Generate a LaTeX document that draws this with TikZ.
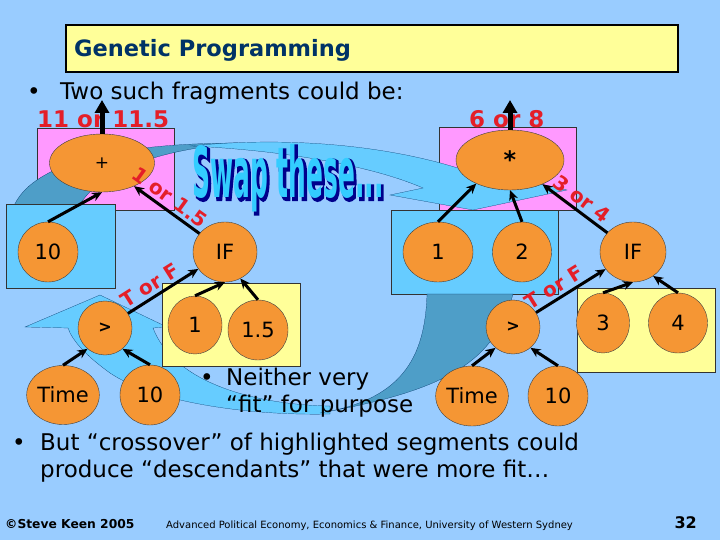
\documentclass[tikz,border=0pt]{standalone}
\usepackage{fontspec}
\setmainfont{DejaVu Sans}
\usetikzlibrary{shapes.geometric}
\usetikzlibrary{arrows.meta}
\definecolor{slidebg}{RGB}{153,204,255}
\definecolor{gppink}{RGB}{255,153,255}
\definecolor{gpcyan}{RGB}{102,204,255}
\definecolor{gpyellow}{RGB}{255,255,153}
\definecolor{gporange}{RGB}{245,150,52}
\definecolor{gpteal}{RGB}{78,158,200}
\definecolor{gpred}{RGB}{228,30,40}
\definecolor{gpnavy}{RGB}{0,51,102}
\definecolor{wordnavy}{RGB}{0,0,140}
\definecolor{wordcyan}{RGB}{51,204,255}
\newcommand{\gpsize}[1]{\fontsize{#1}{#1}\selectfont}
\newcommand{\swaptext}{\scalebox{0.356}[1]{Swap these...}}
\tikzset{
    every node/.style={inner sep=0pt},
    gp/.style 2 args={
        ellipse,
        draw=black!75,
        thin,
        fill=gporange,
        minimum width=#1,
        minimum height=#2,
        font=\gpsize{21}},
    subtree/.style={draw=black!80, thin},
    gpedge/.style={draw, line width=3pt, -{Stealth[length=10pt,width=9pt]}},
    outarrow/.style={draw, line width=5pt, -{Triangle[length=13pt,width=14pt]}},
    redlbl/.style={text=gpred, font=\bfseries\gpsize{20}},
    redres/.style={anchor=base west, text=gpred, font=\bfseries\gpsize{23}},
    bodytext/.style={anchor=base west, font=\gpsize{23}},
    swapshade/.style={text=wordnavy, font=\bfseries\gpsize{70}\addfontfeature{FakeBold=5}},
    swapfill/.style={text=wordcyan, font=\bfseries\gpsize{70}},
    arrowface/.style={fill=gpcyan, draw=gpnavy, very thin},
    arrowback/.style={fill=gpteal, draw=gpnavy, very thin}}
\begin{document}
\begin{tikzpicture}[x=1pt, y=-1pt]
    \fill[slidebg] (0,0) rectangle (720,540);
    \draw[fill=gpyellow, line width=2pt] (66,25) rectangle (678,72);
    \node[anchor=base west, text=gpnavy, font=\bfseries\gpsize{22.5}] (title) at (74,57) {Genetic Programming};
    \node[bodytext] (intro) at (27,100) {\makebox[33pt][l]{•}Two such fragments could be:};

    \draw[subtree, fill=gppink] (37,128) rectangle (174,210);
    \draw[subtree, fill=gppink] (439,127) rectangle (576,210);

    \draw[arrowback] (13,208) .. controls (30,165) and (110,143) .. (240,143)
        .. controls (150,150) and (95,175) .. (78,208) -- cycle;
    \draw[arrowface] (190,146) .. controls (300,135) and (400,148) .. (470,172)
        -- (545,185) -- (567,190) -- (473,210) -- (390,195) -- (423,188)
        .. controls (370,165) and (280,150) .. (190,146) -- cycle;

    \draw[subtree, fill=gpcyan] (6,204) rectangle (115,288);
    \draw[subtree, fill=gpcyan] (391,210) rectangle (558,294);

    \draw[arrowface] (25,327) -- (100,295) -- (167,327) -- (153,328)
        .. controls (175,385) and (260,405) .. (330,406) -- (330,414)
        .. controls (240,416) and (150,400) .. (110,373)
        .. controls (85,355) and (72,340) .. (68,328) -- cycle;
    \draw[arrowback] (427,294) .. controls (425,360) and (400,400) .. (320,413)
        .. controls (450,390) and (495,360) .. (513,294) -- cycle;

    \draw[subtree, fill=gpyellow] (162,283) rectangle (300,366);
    \draw[subtree, fill=gpyellow] (577,288) rectangle (715,372);

    \node[swapshade] (swapshadow) at (290,180) {\swaptext};
    \node[swapfill] (swap) at (288,178) {\swaptext};

    \node[gp={105pt}{58pt}, font=\gpsize{17}] (lplus) at (102,163) {+};
    \node[gp={60pt}{60pt}] (lten) at (48,252) {10};
    \node[gp={64pt}{60pt}] (lif) at (225,252) {IF};
    \node[gp={54pt}{54pt}, font=\bfseries\gpsize{16}] (lgt) at (105,328) {>};
    \node[gp={54pt}{58pt}] (lone) at (195,325) {1};
    \node[gp={60pt}{60pt}] (lonefive) at (258,330) {1.5};
    \node[gp={65pt}{59pt}] (ltime) at (63,395) {Time};
    \node[gp={60pt}{60pt}] (ltenb) at (150,395) {10};

    \node[gp={108pt}{60pt}, font=\bfseries\gpsize{24}] (rstar) at (510,160) {*};
    \node[gp={70pt}{60pt}] (rone) at (438,252) {1};
    \node[gp={59pt}{60pt}] (rtwo) at (522,252) {2};
    \node[gp={66pt}{60pt}] (rif) at (633,252) {IF};
    \node[gp={54pt}{54pt}, font=\bfseries\gpsize{16}] (rgt) at (513,327) {>};
    \node[gp={53pt}{60pt}] (rthree) at (603,323) {3};
    \node[gp={59pt}{60pt}] (rfour) at (678,323) {4};
    \node[gp={66pt}{60pt}] (rtime) at (472,396) {Time};
    \node[gp={60pt}{60pt}] (rten) at (558,396) {10};

    \draw[gpedge] (lten.north) -- (lplus.south);
    \draw[gpedge] (lif) -- node[redlbl, sloped, above=3pt, pos=0.56] {1 or 1.5} (lplus);
    \draw[gpedge] (lgt) -- node[redlbl, sloped, above=3pt, pos=0.4] {T or F} (lif);
    \draw[gpedge] (lone.north) -- (lif.south);
    \draw[gpedge] (lonefive.north) -- (lif.-60);
    \draw[gpedge] (ltime.north) -- (lgt.-130);
    \draw[gpedge] (ltenb.north) -- (lgt.-50);

    \draw[gpedge] (rone.north) -- (rstar.-145);
    \draw[gpedge] (rtwo.north) -- (rstar.south);
    \draw[gpedge] (rif) -- node[redlbl, sloped, above=3pt] {3 or 4} (rstar);
    \draw[gpedge] (rgt) -- node[redlbl, sloped, above=3pt, pos=0.35] {T or F} (rif);
    \draw[gpedge] (rthree.north) -- (rif.south);
    \draw[gpedge] (rfour.north) -- (rif.-50);
    \draw[gpedge] (rtime.north) -- (rgt.-130);
    \draw[gpedge] (rten.north) -- (rgt.-50);

    \node[redres] (lres) at (37,128) {11 or 11.5};
    \node[redres] (rres) at (469,128) {6 or 8};
    \coordinate (lout) at (102,100);
    \coordinate (rout) at (510,100);
    \draw[outarrow] (lplus) -- (lout);
    \draw[outarrow] (rstar) -- (rout);

    \node[bodytext] (neither) at (200,385) {\makebox[26pt][l]{•}Neither very};
    \node[bodytext] (fitness) at (226,412) {“fit” for purpose};
    \node[bodytext] (crossover) at (12,450) {\makebox[28pt][l]{•}But “crossover” of highlighted segments could};
    \node[bodytext] (descend) at (40,477) {produce “descendants” that were more fit…};
    \node[anchor=base west, font=\bfseries\gpsize{12.3}] (author) at (5,528) {©Steve Keen 2005};
    \node[anchor=base west, font=\gpsize{10}] (uni) at (166,528) {Advanced Political Economy, Economics \& Finance, University of Western Sydney};
    \node[anchor=base east, font=\bfseries\gpsize{16}] (pagenum) at (697,528) {32};
\end{tikzpicture}
\end{document}
